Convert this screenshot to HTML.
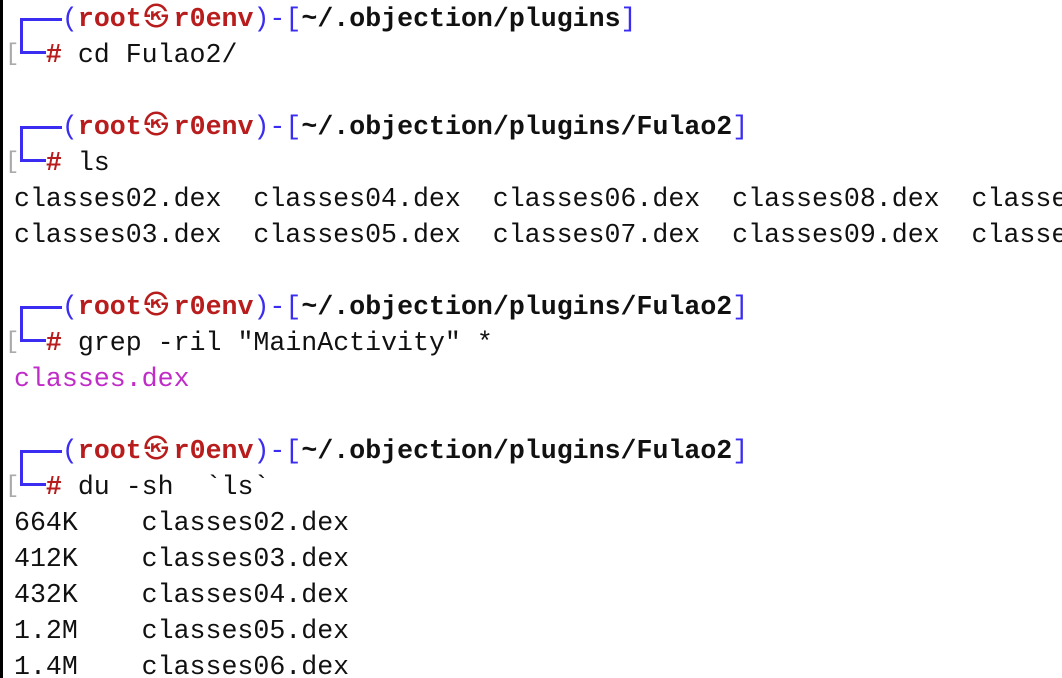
<!DOCTYPE html>
<html><head><meta charset="utf-8"><style>
html,body{margin:0;padding:0;background:#fff;width:1062px;height:678px;overflow:hidden;position:relative}
.bar{position:absolute;left:0;top:0;width:3px;height:678px;background:#000}
.l{position:absolute;left:14px;right:0;overflow:hidden;white-space:pre;font-family:"Liberation Mono","DejaVu Sans Mono",monospace;font-size:26.6px;line-height:36px;height:36px;color:#111}
.b{color:#3a2cf0}.r{color:#b81c1c;font-weight:bold}.k{color:#111;font-weight:bold}.m{color:#c02cc8}
.g{position:absolute;left:5px;color:#aaa;font-family:"Liberation Mono",monospace;font-size:24px;line-height:36px}
.s{display:inline-block;width:16px;font-size:25px;font-weight:normal;vertical-align:top;overflow:visible;text-indent:2px}
</style></head><body>
<div class="bar"></div>

<div style="position:absolute;left:20px;top:18px;width:3px;height:36px;background:#3a2cf0"></div>
<div style="position:absolute;left:20px;top:18px;width:42px;height:3px;background:#3a2cf0"></div>
<div style="position:absolute;left:20px;top:51px;width:26px;height:3px;background:#3a2cf0"></div>
<div class="g" style="top:37px">[</div>
<div class="l" style="top:1px">   <span class="b">(</span><span class="r">root<span class="s">㉿</span> r0env</span><span class="b">)-[</span><span class="k">~/.objection/plugins</span><span class="b">]</span></div>
<div class="l" style="top:37px">  <span class="r">#</span> cd Fulao2/</div>

<div style="position:absolute;left:20px;top:126px;width:3px;height:36px;background:#3a2cf0"></div>
<div style="position:absolute;left:20px;top:126px;width:42px;height:3px;background:#3a2cf0"></div>
<div style="position:absolute;left:20px;top:159px;width:26px;height:3px;background:#3a2cf0"></div>
<div class="g" style="top:145px">[</div>
<div class="l" style="top:109px">   <span class="b">(</span><span class="r">root<span class="s">㉿</span> r0env</span><span class="b">)-[</span><span class="k">~/.objection/plugins/Fulao2</span><span class="b">]</span></div>
<div class="l" style="top:145px">  <span class="r">#</span> ls</div>
<div class="l" style="top:181px">classes02.dex  classes04.dex  classes06.dex  classes08.dex  classes10.dex</div>
<div class="l" style="top:217px">classes03.dex  classes05.dex  classes07.dex  classes09.dex  classes.dex</div>

<div style="position:absolute;left:20px;top:306px;width:3px;height:36px;background:#3a2cf0"></div>
<div style="position:absolute;left:20px;top:306px;width:42px;height:3px;background:#3a2cf0"></div>
<div style="position:absolute;left:20px;top:339px;width:26px;height:3px;background:#3a2cf0"></div>
<div class="g" style="top:325px">[</div>
<div class="l" style="top:289px">   <span class="b">(</span><span class="r">root<span class="s">㉿</span> r0env</span><span class="b">)-[</span><span class="k">~/.objection/plugins/Fulao2</span><span class="b">]</span></div>
<div class="l" style="top:325px">  <span class="r">#</span> grep -ril "MainActivity" *</div>
<div class="l m" style="top:361px">classes.dex</div>

<div style="position:absolute;left:20px;top:450px;width:3px;height:36px;background:#3a2cf0"></div>
<div style="position:absolute;left:20px;top:450px;width:42px;height:3px;background:#3a2cf0"></div>
<div style="position:absolute;left:20px;top:483px;width:26px;height:3px;background:#3a2cf0"></div>
<div class="g" style="top:469px">[</div>
<div class="l" style="top:433px">   <span class="b">(</span><span class="r">root<span class="s">㉿</span> r0env</span><span class="b">)-[</span><span class="k">~/.objection/plugins/Fulao2</span><span class="b">]</span></div>
<div class="l" style="top:469px">  <span class="r">#</span> du -sh  `ls`</div>
<div class="l" style="top:505px">664K    classes02.dex</div>
<div class="l" style="top:541px">412K    classes03.dex</div>
<div class="l" style="top:577px">432K    classes04.dex</div>
<div class="l" style="top:613px">1.2M    classes05.dex</div>
<div class="l" style="top:649px">1.4M    classes06.dex</div>
</body></html>
